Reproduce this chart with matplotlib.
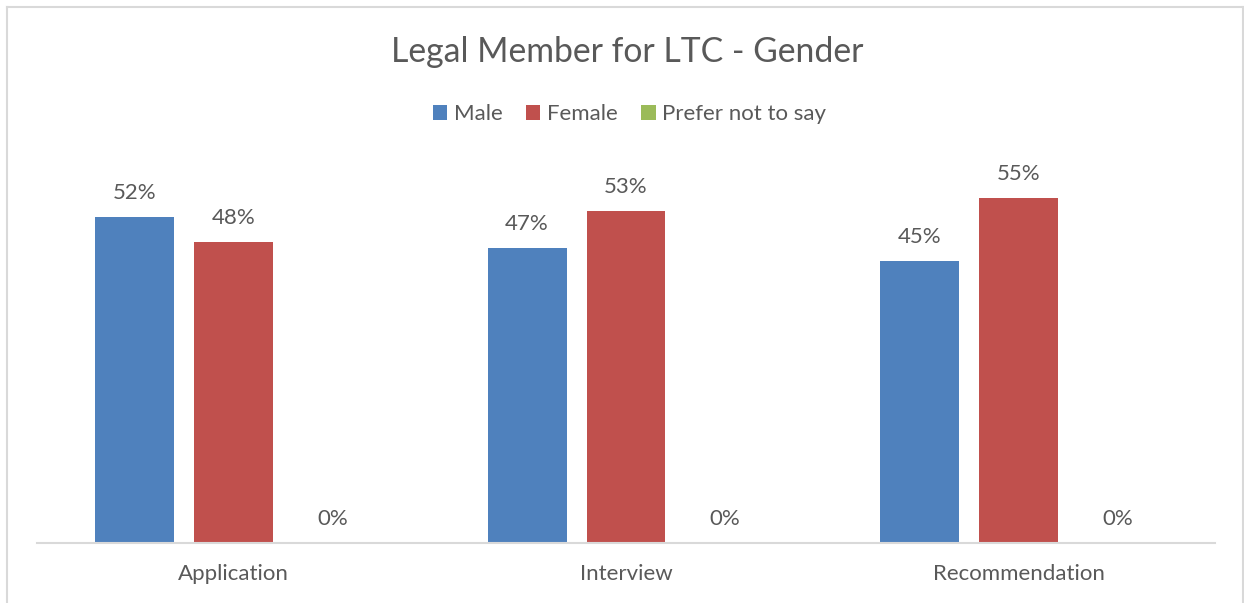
import matplotlib.pyplot as plt
from matplotlib.lines import Line2D
import numpy as np

plt.rcParams['font.family'] = ['Lato', 'DejaVu Sans']

stages = ['Application', 'Interview', 'Recommendation']
groups = ['Male', 'Female', 'Prefer not to say']
male = [0.52, 0.47, 0.45]
female = [0.48, 0.53, 0.55]
no_say = [0.0, 0.0, 0.0]
colors = ['#4f81bd', '#c0504d', '#9bbb59']
txt = '#595959'
grey = '#d9d9d9'

fig = plt.figure(figsize=(12.44, 6.03), dpi=100)
ax = fig.add_axes([37/1244, 1 - 543/603, 1178/1244, 376/603])

x = np.arange(len(stages))
w = 0.201
step = 0.252
for i, (vals, name) in enumerate(zip([male, female, no_say], groups)):
    bars = ax.bar(x + (i - 1) * step, vals, w, color=colors[i], label=name)
    for b, v in zip(bars, vals):
        ax.annotate(f'{v:.0%}', (b.get_x() + b.get_width() / 2, v),
                    xytext=(0, 13), textcoords='offset points',
                    ha='center', va='baseline', fontsize=16, color=txt)

ax.set_xlim(-0.5, 2.5)
ax.set_ylim(0, 0.6)
ax.set_xticks(x)
ax.set_xticklabels(stages, fontsize=16, color=txt)
ax.tick_params(axis='x', length=0, pad=15)
ax.set_yticks([])
for s in ['left', 'right', 'top']:
    ax.spines[s].set_visible(False)
ax.spines['bottom'].set_color(grey)
ax.spines['bottom'].set_linewidth(1.5)

fig.text(0.504, 1 - 52/603, 'Legal Member for LTC - Gender', ha='center',
         va='center', fontsize=24.3, color=txt)
fig.legend(loc='center', bbox_to_anchor=(0.506, 1 - 114/603), ncol=3,
           frameon=False, fontsize=16, labelcolor=txt, handlelength=0.65,
           handleheight=0.65, handletextpad=0.3, columnspacing=1.05)

# chart frame
fx0, fx1, fy1 = 6.5/1244, 1242.5/1244, 1 - 6.5/603
for xs, ys in [([fx0, fx0], [0, fy1]), ([fx0, fx1], [fy1, fy1]), ([fx1, fx1], [fy1, 0])]:
    fig.add_artist(Line2D(xs, ys, color=grey, lw=1.5, transform=fig.transFigure))

fig.savefig('out.png', dpi=100)
